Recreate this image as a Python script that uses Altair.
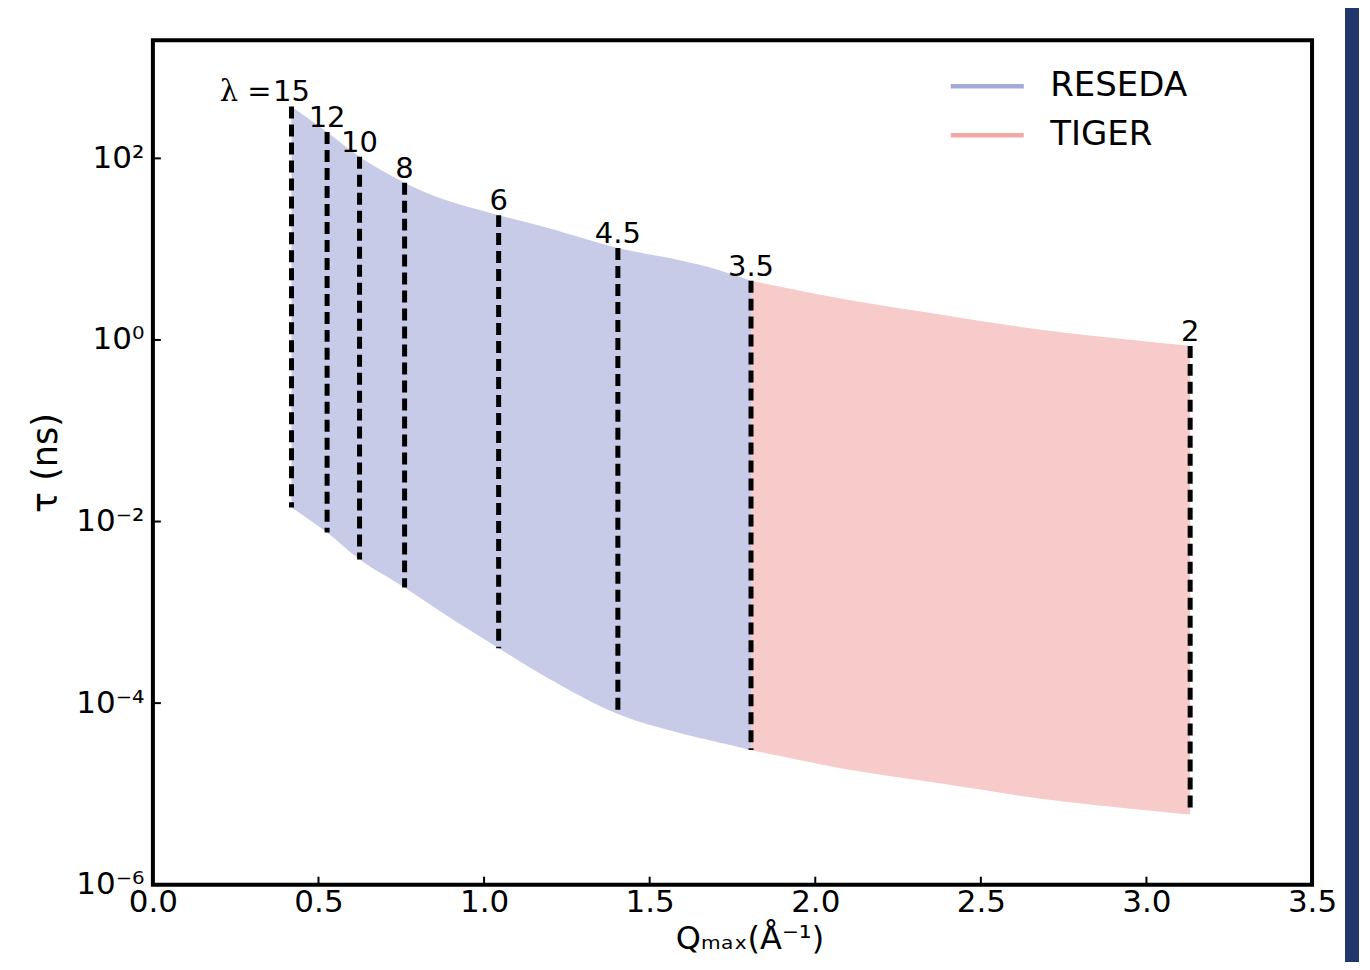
import altair as alt
import pandas as pd

# ---- data ----
LAMBDAS = ["15", "12", "10", "8", "6", "4.5", "3.5", "2"]
LINE_Q = [0.4185, 0.526, 0.624, 0.760, 1.044, 1.404, 1.806, 3.132]
LINE_TOP = [373, 195, 104, 54, 23.7, 10.3, 4.5, 0.86]
LINE_BOTTOM = [0.01426, 0.00757, 0.00382, 0.00188, 4.02e-4, 7.57e-5, 3.05e-5, 7.0e-6]

RESEDA_Q = [0.4185, 0.526, 0.624, 0.760, 0.886, 1.044, 1.188, 1.404, 1.590, 1.690, 1.806]
RESEDA_UPPER = [373, 195, 104, 54, 34.5, 23.7, 17.3, 10.3, 7.57, 6.18, 4.5]
RESEDA_LOWER = [0.01426, 0.00757, 0.00382, 0.00188, 9.27e-4, 4.02e-4, 1.93e-4,
                7.57e-5, 4.68e-5, 3.82e-5, 3.05e-5]

TIGER_Q = [1.806, 2.103, 2.405, 2.706, 3.132]
TIGER_UPPER = [4.5, 2.75, 1.84, 1.26, 0.86]
TIGER_LOWER = [3.05e-5, 1.84e-5, 1.26e-5, 8.6e-6, 5.9e-6]

SERIES = ["RESEDA", "TIGER"]
SERIES_COLORS = ["#a3a9d9", "#f2a9a6"]

X_TICKS = [0.0, 0.5, 1.0, 1.5, 2.0, 2.5, 3.0, 3.5]
X_INNER_TICKS = [0.5, 1.0, 1.5, 2.0, 2.5, 3.0]
Y_TICKS = [1e-6, 1e-4, 1e-2, 1.0, 1e2]
Y_TICK_LABELS = ["10⁻⁶", "10⁻⁴", "10⁻²", "10⁰", "10²"]
Y_INNER_TICKS = [1e-4, 1e-2, 1.0, 1e2]

W, H = 1160, 845
FONT = "DejaVu Sans"

# ---- tables ----
area_df = pd.concat([
    pd.DataFrame({"Q": RESEDA_Q, "tau": RESEDA_UPPER, "tau2": RESEDA_LOWER, "instrument": "RESEDA"}),
    pd.DataFrame({"Q": TIGER_Q, "tau": TIGER_UPPER, "tau2": TIGER_LOWER, "instrument": "TIGER"}),
], ignore_index=True)
lines_df = pd.DataFrame({"Q": LINE_Q, "tau": LINE_TOP, "tau2": LINE_BOTTOM, "lam": LAMBDAS})
lam_prefix_df = lines_df.iloc[[0]].assign(lab="λ =")
xt_df = pd.DataFrame({"Q": X_INNER_TICKS})
yt_df = pd.DataFrame({"tau": Y_INNER_TICKS})

label_expr = " : ".join(
    f"datum.value < {v * 1.5} ? '{l}'" for v, l in zip(Y_TICKS[:-1], Y_TICK_LABELS[:-1])
) + f" : '{Y_TICK_LABELS[-1]}'"

xscale = alt.Scale(domain=[0, 3.5], nice=False, zero=False)
yscale = alt.Scale(type="log", domain=[1e-6, 10 ** 3.3], nice=False)

x_axis = alt.Axis(values=X_TICKS, format=".1f", title="Qₘₐₓ(Å⁻¹)", labelFontSize=31,
                  labelPadding=3, titleFontSize=32, titlePadding=6, titleX=597,
                  labelFlush=False)
y_axis = alt.Axis(values=Y_TICKS, labelExpr=label_expr, title="τ (ns)", labelFontSize=31,
                  labelPadding=9, titleFontSize=35, titlePadding=12)

# thin horizontal bar used as the legend swatch (a short line)
legend_symbol = "M-3,-0.18L3,-0.18L3,0.18L-3,0.18Z"

areas = alt.Chart(area_df).mark_area(opacity=0.6, interpolate="catmull-rom").encode(
    x=alt.X("Q:Q", scale=xscale, axis=x_axis),
    y=alt.Y("tau:Q", scale=yscale, axis=y_axis),
    y2="tau2:Q",
    color=alt.Color("instrument:N",
                    scale=alt.Scale(domain=SERIES, range=SERIES_COLORS),
                    legend=alt.Legend(title=None, orient="none", legendX=818, legendY=29,
                                      symbolType=legend_symbol, symbolSize=593,
                                      symbolOpacity=1, symbolStrokeWidth=0,
                                      labelFontSize=34, labelFont=FONT,
                                      labelOffset=46, rowPadding=15, labelColor="black")),
)

dashes = alt.Chart(lines_df).mark_rule(color="black", strokeWidth=5, strokeDash=[12, 6],
                                       strokeCap="butt").encode(
    x="Q:Q", y="tau:Q", y2="tau2:Q")

lam_text = alt.Chart(lines_df).mark_text(fontSize=29, font=FONT, baseline="alphabetic",
                                         align="center", dy=-5, color="black").encode(
    x="Q:Q", y="tau:Q", text="lam:N")

lam_prefix = alt.Chart(lam_prefix_df).mark_text(fontSize=29, font="DejaVu Serif",
                                                baseline="alphabetic", align="right",
                                                dx=-20, dy=-5, color="black").encode(
    x="Q:Q", y="tau:Q", text="lab:N")

xticks = alt.Chart(xt_df).mark_rule(color="black", strokeWidth=2).encode(
    x="Q:Q", y=alt.value(H), y2=alt.value(H - 8))
yticks = alt.Chart(yt_df).mark_rule(color="black", strokeWidth=2).encode(
    y="tau:Q", x=alt.value(0), x2=alt.value(8))

strip = alt.Chart(pd.DataFrame({"a": [0]})).mark_rule(color="#22376b", strokeWidth=14).encode(
    x=alt.value(1200), y=alt.value(-40), y2=alt.value(930))

chart = alt.layer(areas, dashes, lam_text, lam_prefix, xticks, yticks, strip).properties(
    width=W, height=H,
    autosize=alt.AutoSizeParams(type="none"),
    padding={"left": 145, "top": 32, "right": 50, "bottom": 77},
).configure_view(stroke="black", strokeWidth=4).configure_axis(
    domain=False, ticks=False, grid=False, labelFont=FONT, titleFont=FONT,
    labelColor="black", titleColor="black", titleFontWeight="normal",
)

chart.save("out.html", embed_options={"renderer": "svg", "actions": False})
